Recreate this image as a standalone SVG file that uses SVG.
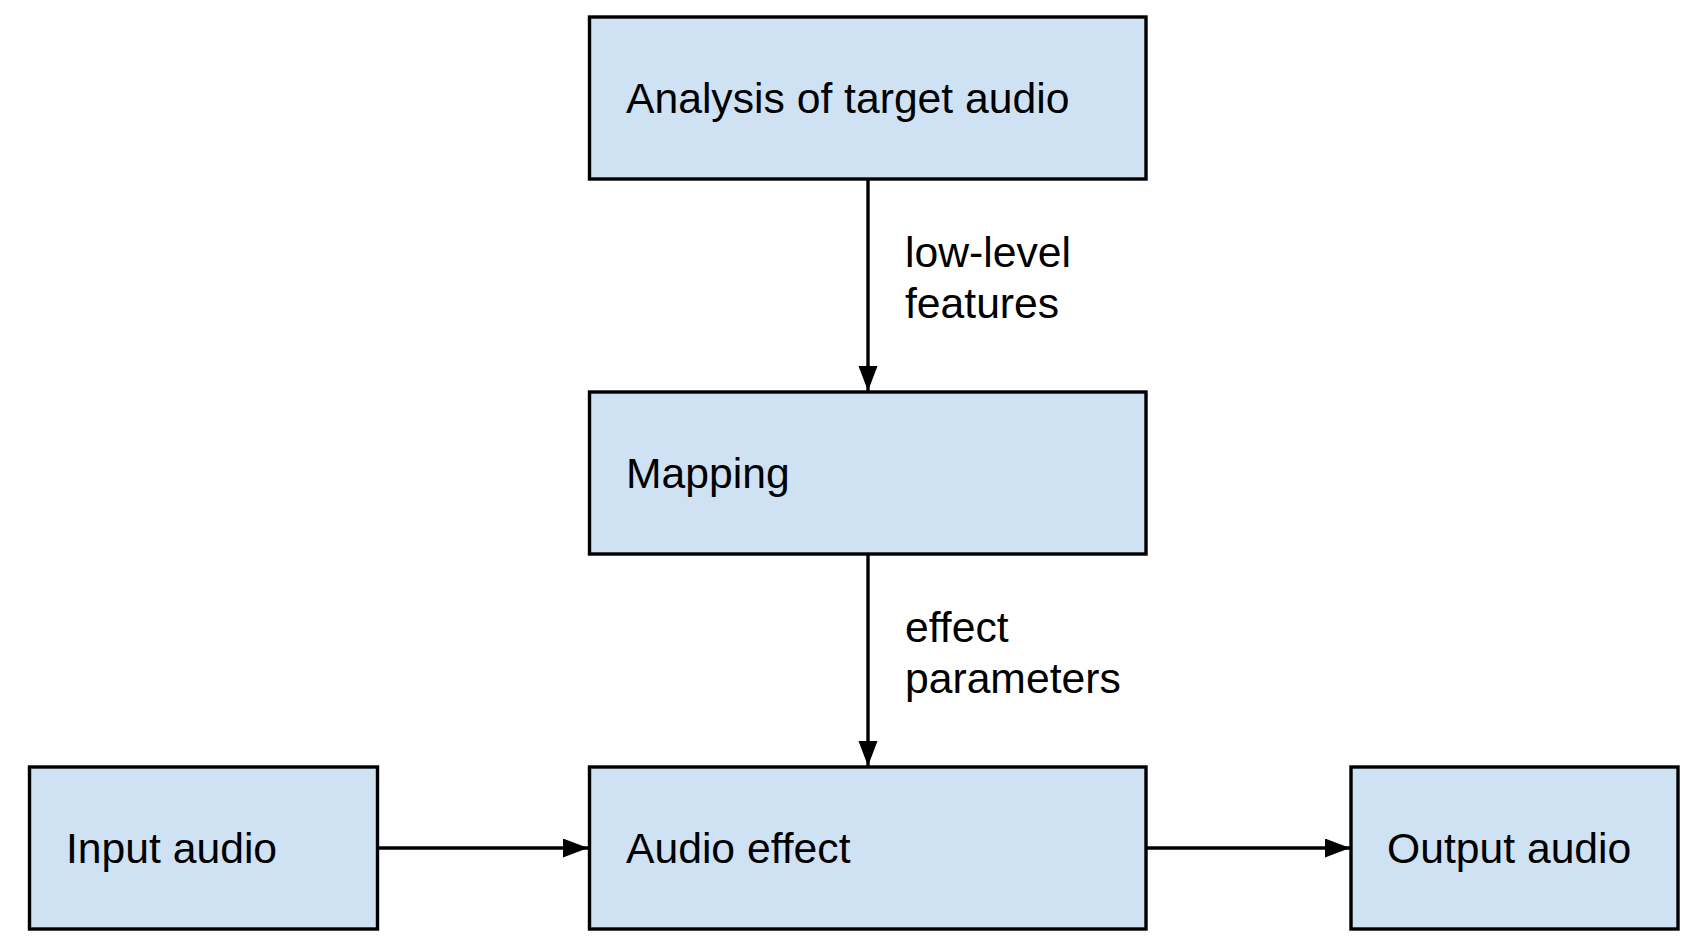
<svg xmlns="http://www.w3.org/2000/svg" width="1705" height="944" viewBox="0 0 1705 944">
<style>
.box{fill:#cfe2f3;stroke:#000;stroke-width:3.4}
.lbl{font-family:"Liberation Sans",Arial,sans-serif;font-size:42.67px;fill:#000}
.conn{stroke:#000;stroke-width:3.4;fill:none}
</style>
<defs>
<marker id="arr" markerUnits="userSpaceOnUse" markerWidth="26" markerHeight="20" refX="25" refY="9.5" orient="auto">
<path d="M0,0 L25,9.5 L0,19 z" fill="#000"/>
</marker>
</defs>
<rect width="1705" height="944" fill="#fff"/>
<g id="connectors">
<line class="conn" x1="868" y1="179" x2="868" y2="391" marker-end="url(#arr)"/>
<line class="conn" x1="868" y1="554" x2="868" y2="766" marker-end="url(#arr)"/>
<line class="conn" x1="378" y1="848" x2="588" y2="848" marker-end="url(#arr)"/>
<line class="conn" x1="1146" y1="848" x2="1350" y2="848" marker-end="url(#arr)"/>
<text class="lbl" x="905" y="267">low-level</text>
<text class="lbl" x="905" y="318">features</text>
<text class="lbl" x="905" y="642">effect</text>
<text class="lbl" x="905" y="693">parameters</text>
</g>
<g id="analysis">
<rect class="box" x="589.5" y="17" width="556.5" height="162"/>
<text class="lbl" x="626" y="113">Analysis of target audio</text>
</g>
<g id="mapping">
<rect class="box" x="589.5" y="392" width="556.5" height="162"/>
<text class="lbl" x="626" y="488">Mapping</text>
</g>
<g id="audio-effect">
<rect class="box" x="589.5" y="767" width="556.5" height="162"/>
<text class="lbl" x="626" y="863">Audio effect</text>
</g>
<g id="input-audio">
<rect class="box" x="29.5" y="767" width="348" height="162"/>
<text class="lbl" x="66" y="863">Input audio</text>
</g>
<g id="output-audio">
<rect class="box" x="1351" y="767" width="327" height="162"/>
<text class="lbl" x="1387" y="863">Output audio</text>
</g>
</svg>
